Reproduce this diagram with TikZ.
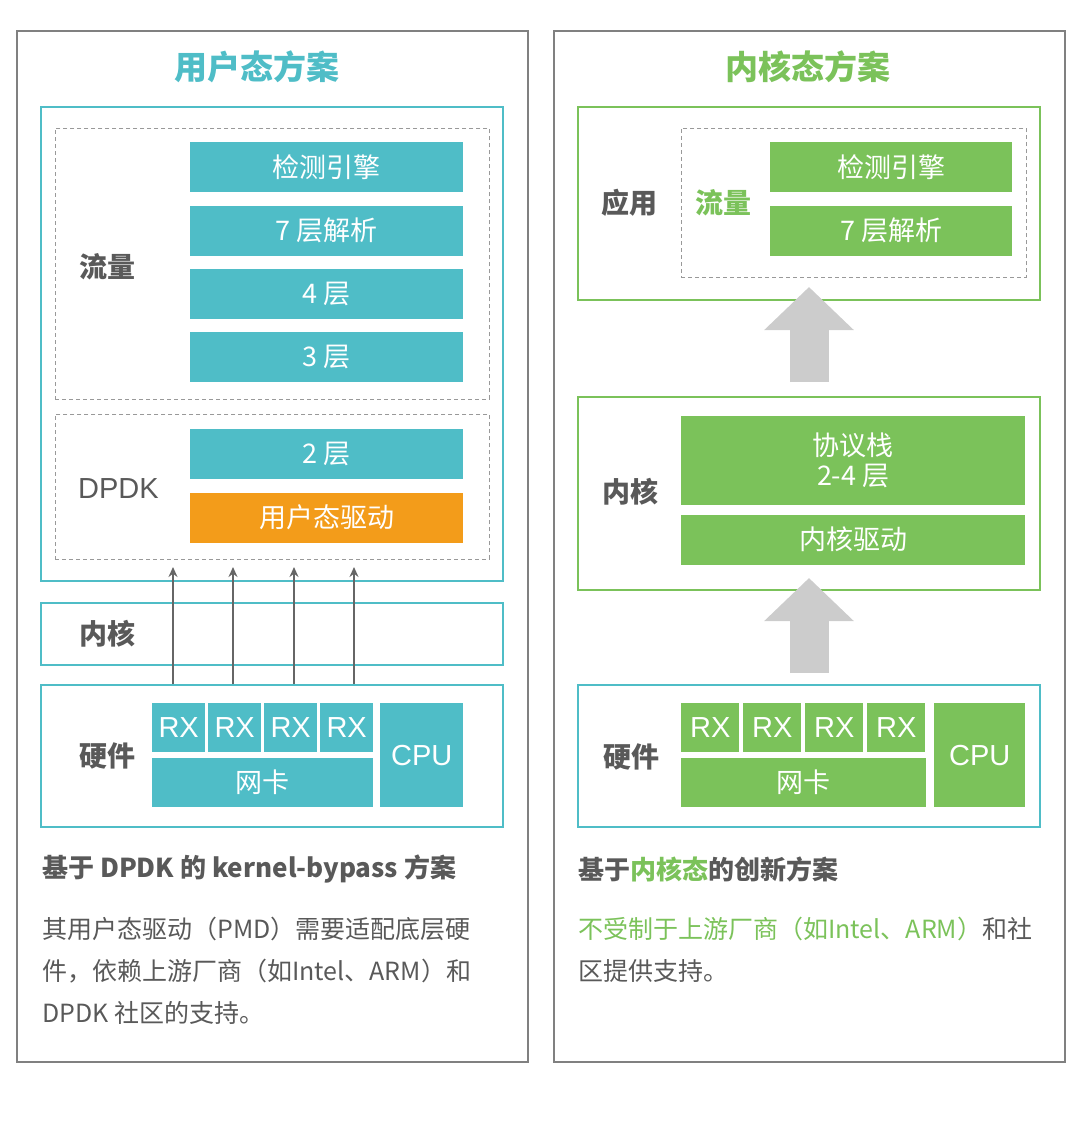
\documentclass[tikz,border=0pt]{standalone}
\usepackage{fontspec}
\setmainfont{Noto Sans CJK SC}
\newfontfamily\latinsf{Liberation Sans}
\usepackage{tikz}
\usetikzlibrary{arrows.meta, positioning}
\definecolor{tealUser}{RGB}{79,189,199}
\definecolor{greenKern}{RGB}{123,194,90}
\definecolor{orangeDrv}{RGB}{243,156,26}
\definecolor{grayText}{RGB}{89,89,89}
\definecolor{grayFrame}{RGB}{128,128,128}
\definecolor{grayDash}{RGB}{153,153,153}
\definecolor{grayArrow}{RGB}{102,102,102}
\definecolor{grayBlock}{RGB}{204,204,204}
\tikzset{
  sc/panel/.style={rectangle, draw=grayFrame, line width=1.5pt, anchor=north west,
    inner sep=0pt, minimum width=511pt, minimum height=1031pt},
  sc/frame/.style={rectangle, draw=#1, line width=2pt, anchor=north west,
    inner sep=0pt},
  sc/dash/.style={rectangle, draw=grayDash, line width=0.9pt,
    dash pattern=on 4pt off 3pt, anchor=north west, inner sep=0pt},
  sc/blk/.style={rectangle, fill=#1, text=white, anchor=north west,
    inner sep=0pt, minimum height=50pt, align=center,
    font=\fontsize{27}{30}\selectfont},
  sc/hw/.style={sc/blk=#1, minimum height=49pt,
    font=\fontsize{29}{32}\selectfont\latinsf},
  sc/lbl/.style={anchor=west, inner sep=0pt, text=grayText,
    font=\fontsize{28}{32}\selectfont\bfseries},
  sc/title/.style={inner sep=0pt, text=#1,
    font=\fontsize{33}{36}\selectfont\bfseries},
  sc/head/.style={anchor=west, inner sep=0pt, text=grayText,
    font=\fontsize{26}{30}\selectfont\bfseries},
  sc/para/.style={anchor=north west, inner sep=0pt, text=grayText, align=left,
    font=\fontsize{25}{42}\selectfont},
  sc/arr/.style={-{Stealth[length=10pt,width=9pt]}, line width=1.6pt,
    draw=grayArrow},
  sc/big/.style={-{Triangle[length=43pt,width=87pt]}, line width=39pt,
    draw=grayBlock}
}

\begin{document}
\begin{tikzpicture}[x=1pt, y=-1pt]
  \useasboundingbox (0,0) rectangle (1080,1125);

  % user-space scheme
  \node[sc/panel] (lpanel) at (16,30) {};
  \node[sc/title=tealUser] (ltitle) at (257,67) {用户态方案};
  \node[sc/frame=tealUser, minimum width=462pt, minimum height=474pt] (luser) at (40,106) {};
  \node[sc/dash, minimum width=434pt, minimum height=271pt] (lflow) at (55,128) {};
  \node[sc/blk=tealUser, minimum width=273pt] (ldet) at (190,142) {检测引擎};
  \node[sc/blk=tealUser, minimum width=273pt, below=13pt of ldet] (ll7) {7 层解析};
  \node[sc/blk=tealUser, minimum width=273pt, below=13pt of ll7] (ll4) {4 层};
  \node[sc/blk=tealUser, minimum width=273pt, below=13pt of ll4] (ll3) {3 层};
  \node[sc/lbl] (lflowlbl) at (79,267) {流量};

  \node[sc/dash, minimum width=434pt, minimum height=145pt] (ldpdk) at (55,414) {};
  \node[sc/blk=tealUser, minimum width=273pt] (ll2) at (190,429) {2 层};
  \node[sc/blk=orangeDrv, minimum width=273pt, below=13pt of ll2] (ldrv) {用户态驱动};
  \node[sc/lbl, font=\fontsize{29}{32}\selectfont\latinsf] (ldpdklbl) at (78,489) {DPDK};

  \node[sc/frame=tealUser, minimum width=462pt, minimum height=62pt] (lkern) at (40,602) {};
  \node[sc/lbl] (lkernlbl) at (79,634) {内核};

  \node[sc/frame=tealUser, minimum width=462pt, minimum height=142pt] (lhw) at (40,684) {};
  \node[sc/lbl] (lhwlbl) at (79,756) {硬件};
  \foreach \x [count=\i] in {152,208,264,320}
    \node[sc/hw=tealUser, minimum width=53pt] (lrx\i) at (\x,703) {RX};
  \node[sc/blk=tealUser, minimum width=221pt, minimum height=49pt] (lnic) at (152,758) {网卡};
  \node[sc/hw=tealUser, minimum width=83pt, minimum height=104pt] (lcpu) at (380,703) {CPU};

  \foreach \x [count=\i] in {173,233,294,354} {
    \coordinate (lin\i) at (\x,567);
    \draw[sc/arr] (lhw.north -| lin\i) -- (lin\i);
  }

  \node[sc/head] (lhead) at (42,869) {基于 DPDK 的 kernel-bypass 方案};
  \node[sc/para] (lpara) at (42,917) {其用户态驱动（PMD）需要适配底层硬\\
        件，依赖上游厂商（如Intel、ARM）和\\DPDK 社区的支持。};

  % kernel-space scheme
  \node[sc/panel] (rpanel) at (553,30) {};
  \node[sc/title=greenKern] (rtitle) at (808,67) {内核态方案};
  \node[sc/frame=greenKern, minimum width=462pt, minimum height=193pt] (rapp) at (577,106) {};
  \node[sc/dash, minimum width=345pt, minimum height=149pt] (rflow) at (681,128) {};
  \node[sc/blk=greenKern, minimum width=242pt] (rdet) at (770,142) {检测引擎};
  \node[sc/blk=greenKern, minimum width=242pt, below=13pt of rdet] (rl7) {7 层解析};
  \node[sc/lbl] (rapplbl) at (601,203) {应用};
  \node[sc/lbl, text=greenKern] (rflowlbl) at (695,203) {流量};

  \node[sc/frame=greenKern, minimum width=462pt, minimum height=193pt] (rkern) at (577,396) {};
  \node[sc/blk=greenKern, minimum width=344pt, minimum height=89pt] (rstack) at (681,416) {协议栈\\2-4 层};
  \node[sc/blk=greenKern, minimum width=344pt, below=9pt of rstack] (rdrv) {内核驱动};
  \node[sc/lbl] (rkernlbl) at (602,492) {内核};

  \node[sc/frame=tealUser, minimum width=462pt, minimum height=142pt] (rhw) at (577,684) {};
  \node[sc/lbl] (rhwlbl) at (603,757) {硬件};
  \foreach \x [count=\i] in {681,743,805,867}
    \node[sc/hw=greenKern, minimum width=58pt] (rrx\i) at (\x,703) {RX};
  \node[sc/blk=greenKern, minimum width=245pt, minimum height=49pt] (rnic) at (681,758) {网卡};
  \node[sc/hw=greenKern, minimum width=91pt, minimum height=104pt] (rcpu) at (934,703) {CPU};

  \draw[sc/big] ([yshift=14pt]rkern.north) -- ([yshift=14pt]rapp.south);
  \draw[sc/big] ([yshift=11pt]rhw.north) -- ([yshift=13pt]rkern.south);

  \node[sc/head] (rhead) at (578,869) {基于\textcolor{greenKern}{内核态}的创新方案};
  \node[sc/para] (rpara) at (578,917) {\textcolor{greenKern}{不受制于上游厂商（如Intel、ARM）}和社\\
        区提供支持。};
\end{tikzpicture}
\end{document}
